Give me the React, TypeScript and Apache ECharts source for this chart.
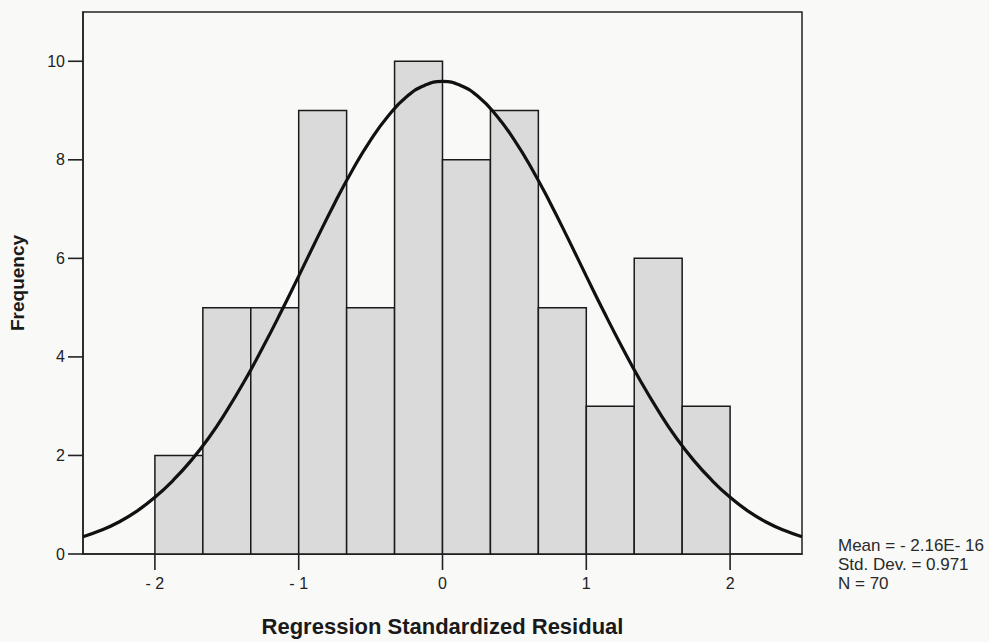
import React, { useEffect, useRef } from "react";
import * as echarts from "echarts";

const binStarts = [-2, -1.6667, -1.3333, -1, -0.6667, -0.3333, 0, 0.3333, 0.6667, 1, 1.3333, 1.6667];
const binWidth = 0.3333;
const counts = [2, 5, 5, 9, 5, 10, 8, 9, 5, 3, 6, 3];

const curveX = [
  -2.5, -2.375, -2.25, -2.125, -2, -1.875, -1.75, -1.625, -1.5, -1.375, -1.25, -1.125, -1, -0.875, -0.75, -0.625,
  -0.5, -0.375, -0.25, -0.125, 0, 0.125, 0.25, 0.375, 0.5, 0.625, 0.75, 0.875, 1, 1.125, 1.25, 1.375, 1.5, 1.625,
  1.75, 1.875, 2, 2.125, 2.25, 2.375, 2.5,
];
const curveY = [
  0.35, 0.48, 0.65, 0.87, 1.15, 1.49, 1.89, 2.36, 2.91, 3.52, 4.19, 4.9, 5.64, 6.39, 7.12, 7.8,
  8.4, 8.9, 9.28, 9.51, 9.59, 9.51, 9.28, 8.9, 8.4, 7.8, 7.12, 6.39, 5.64, 4.9, 4.19, 3.52, 2.91, 2.36,
  1.89, 1.49, 1.15, 0.87, 0.65, 0.48, 0.35,
];

const xTicks = [-2, -1, 0, 1, 2];
const yTicks = [0, 2, 4, 6, 8, 10];

const statLines = ["Mean = - 2.16E- 16", "Std. Dev. = 0.971", "N = 70"];

const FONT = "'Liberation Sans', Arial, sans-serif";
const X_MIN = -2.5;

export default function App() {
  const ref = useRef<HTMLDivElement>(null);
  useEffect(() => {
    document.body.style.margin = "0";
    const chart = echarts.init(ref.current!, null, { renderer: "svg" });
    const barData = binStarts.map((s, i) => [s, s + binWidth, counts[i]]);
    const tickStyle = { stroke: "#222", lineWidth: 1.6 };
    chart.setOption({
      animation: false,
      backgroundColor: "#f9f9f7",
      grid: {
        left: 83,
        right: 187,
        top: 12,
        bottom: 88,
        containLabel: false,
        outerBoundsMode: "none",
        show: true,
        borderColor: "#222",
        borderWidth: 1.5,
        backgroundColor: "transparent",
      },
      xAxis: {
        type: "value",
        min: X_MIN,
        max: 2.5,
        name: "Regression Standardized Residual",
        nameLocation: "middle",
        nameGap: 61,
        nameTextStyle: { fontFamily: FONT, fontSize: 22, fontWeight: "bold", color: "#1a1a1a" },
        axisLine: { show: true, onZero: false, lineStyle: { color: "#222", width: 1.5 } },
        axisTick: { show: false },
        axisLabel: {
          customValues: xTicks,
          margin: 21,
          fontFamily: FONT,
          fontSize: 16,
          color: "#222",
          formatter: (v: number) => (v < 0 ? "- " + Math.abs(v) : String(v)),
        },
        splitLine: { show: false },
      },
      yAxis: {
        type: "value",
        min: 0,
        max: 11,
        interval: 1,
        name: "Frequency",
        nameLocation: "middle",
        nameGap: 56,
        nameTextStyle: { fontFamily: FONT, fontSize: 19, fontWeight: "bold", color: "#1a1a1a" },
        axisLine: { show: true, onZero: false, lineStyle: { color: "#222", width: 1.5 } },
        axisTick: { show: false },
        axisLabel: { customValues: yTicks, margin: 18, fontFamily: FONT, fontSize: 16, color: "#222" },
        splitLine: { show: false },
      },
      series: [
        {
          type: "custom",
          data: barData,
          renderItem: (params: any, api: any) => {
            const p0 = api.coord([api.value(0), 0]);
            const p1 = api.coord([api.value(1), api.value(2)]);
            return {
              type: "rect",
              shape: { x: p0[0], y: p1[1], width: p1[0] - p0[0], height: p0[1] - p1[1] },
              style: { fill: "#dadada", stroke: "#1a1a1a", lineWidth: 1.5 },
            };
          },
          z: 2,
        },
        {
          type: "line",
          data: curveX.map((x, i) => [x, curveY[i]]),
          smooth: true,
          showSymbol: false,
          lineStyle: { color: "#111", width: 3.2 },
          z: 3,
        },
        {
          type: "custom",
          clip: false,
          data: xTicks.map((v) => [v, 0]),
          renderItem: (params: any, api: any) => {
            const p = api.coord([api.value(0), 0]);
            return { type: "line", shape: { x1: p[0], y1: p[1], x2: p[0], y2: p[1] + 16 }, style: tickStyle };
          },
          z: 4,
        },
        {
          type: "custom",
          clip: false,
          data: yTicks.map((v) => [X_MIN, v]),
          renderItem: (params: any, api: any) => {
            const p = api.coord([X_MIN, api.value(1)]);
            return { type: "line", shape: { x1: p[0] - 15, y1: p[1], x2: p[0], y2: p[1] }, style: tickStyle };
          },
          z: 4,
        },
      ],
      graphic: statLines.map((t, i) => ({
        type: "text",
        left: 838,
        top: 537 + i * 19,
        style: { text: t, fontFamily: FONT, fontSize: 17, fill: "#2a2a2a" },
      })),
    });
    return () => chart.dispose();
  }, []);
  return <div ref={ref} style={{ width: 989, height: 642 }} />;
}
